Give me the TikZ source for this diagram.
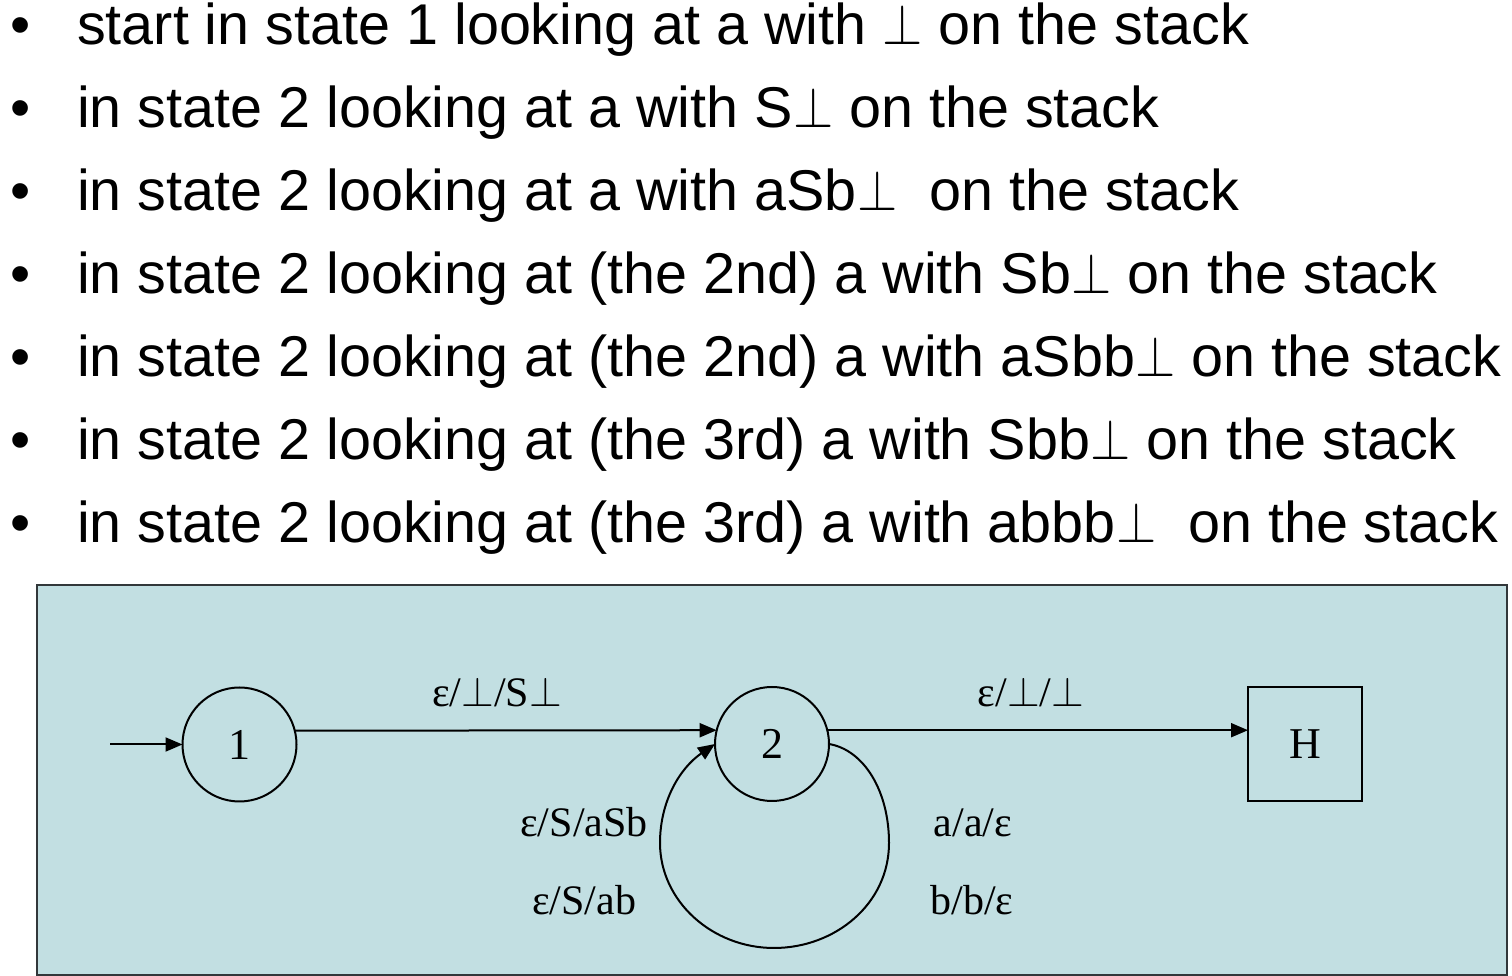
\RequirePackage{fix-cm}
\documentclass[tikz,border=0pt]{standalone}
\usepackage{fontspec}
\usepackage{graphicx}
\setmainfont{Liberation Serif}
\newfontfamily\sansf{Liberation Sans}
\usetikzlibrary{arrows.meta}
\definecolor{boxfill}{RGB}{194,223,226}
\definecolor{boxline}{RGB}{50,55,58}
\newcommand{\bt}{\scalebox{0.9}[1]{$\perp$}}
\newcommand{\lt}{$\perp$}
\tikzset{
  bul/.style={anchor=base west, inner sep=0pt, font=\sansf\fontsize{57.5}{60}\selectfont},
  dot/.style={anchor=base, inner sep=0pt, font=\sansf\fontsize{57.5}{60}\selectfont},
  state/.style={circle, draw, line width=2pt, minimum size=114pt, inner sep=0pt, outer sep=0pt, font=\fontsize{44}{48}\selectfont},
  haltbox/.style={rectangle, draw, line width=2pt, minimum size=114pt, inner sep=0pt, outer sep=0pt, font=\fontsize{44}{48}\selectfont},
  lbl/.style={anchor=base, inner sep=0pt, font=\fontsize{42}{46}\selectfont},
  edge/.style={line width=2pt, -{Triangle[length=17pt,width=14pt]}}
}
\begin{document}
\begin{tikzpicture}[x=1pt,y=1pt]
\useasboundingbox (0,0) rectangle (1512,976);
% bullets
\foreach \i/\yy in {1/931,2/848,3/765,4/682,5/599,6/516,7/433}{
  \node[dot] (d\i) at (21,\yy) {•};
}
\node[bul] (b1) at (77,931) {start in state 1 looking at a with \bt{} on the stack};
\node[bul] (b2) at (77,848) {in state 2 looking at a with S\bt{} on the stack};
\node[bul] (b3) at (77,765) {in state 2 looking at a with aSb\bt\ \ on the stack};
\node[bul] (b4) at (77,682) {in state 2 looking at (the 2nd) a with Sb\bt{} on the stack};
\node[bul] (b5) at (77,599) {in state 2 looking at (the 2nd) a with aSbb\bt{} on the stack};
\node[bul] (b6) at (77,516) {in state 2 looking at (the 3rd) a with Sbb\bt{} on the stack};
\node[bul] (b7) at (77,433) {in state 2 looking at (the 3rd) a with abbb\bt\ \ on the stack};
% box
\path[draw=boxline, fill=boxfill, line width=2pt] (37,1) rectangle (1507,391);
% states
\node[state] (c1) at (239.5,231.5) {1};
\node[state] (c2) at (772,232) {2};
\node[haltbox] (H) at (1305,231.5) {H};
\coordinate (init) at (110,231.5);
\draw[edge] (init) -- (c1);
\draw[edge] (c1.14) -- (c2.166);
\draw[edge] (c2.14) -- (c2.14 -| H.west);
\draw[edge] (c2.east) .. controls +(35,-6) and (889,185) .. (889,133)
  .. controls (889,72) and (835,28) .. (774,28)
  .. controls (712,28) and (660,75) .. (660,133)
  .. controls (660,175) and (680,208) .. (c2.west);
% labels
\node[lbl] (l12) at (497,269) {ε/\lt/S\lt};
\node[lbl] (l2H) at (1031,269) {ε/\lt/\lt};
\node[lbl] (la) at (584,139) {ε/S/aSb};
\node[lbl] (lb) at (584,61) {ε/S/ab};
\node[lbl] (lc) at (973,139) {a/a/ε};
\node[lbl] (ld) at (972,61) {b/b/ε};
\end{tikzpicture}
\end{document}
